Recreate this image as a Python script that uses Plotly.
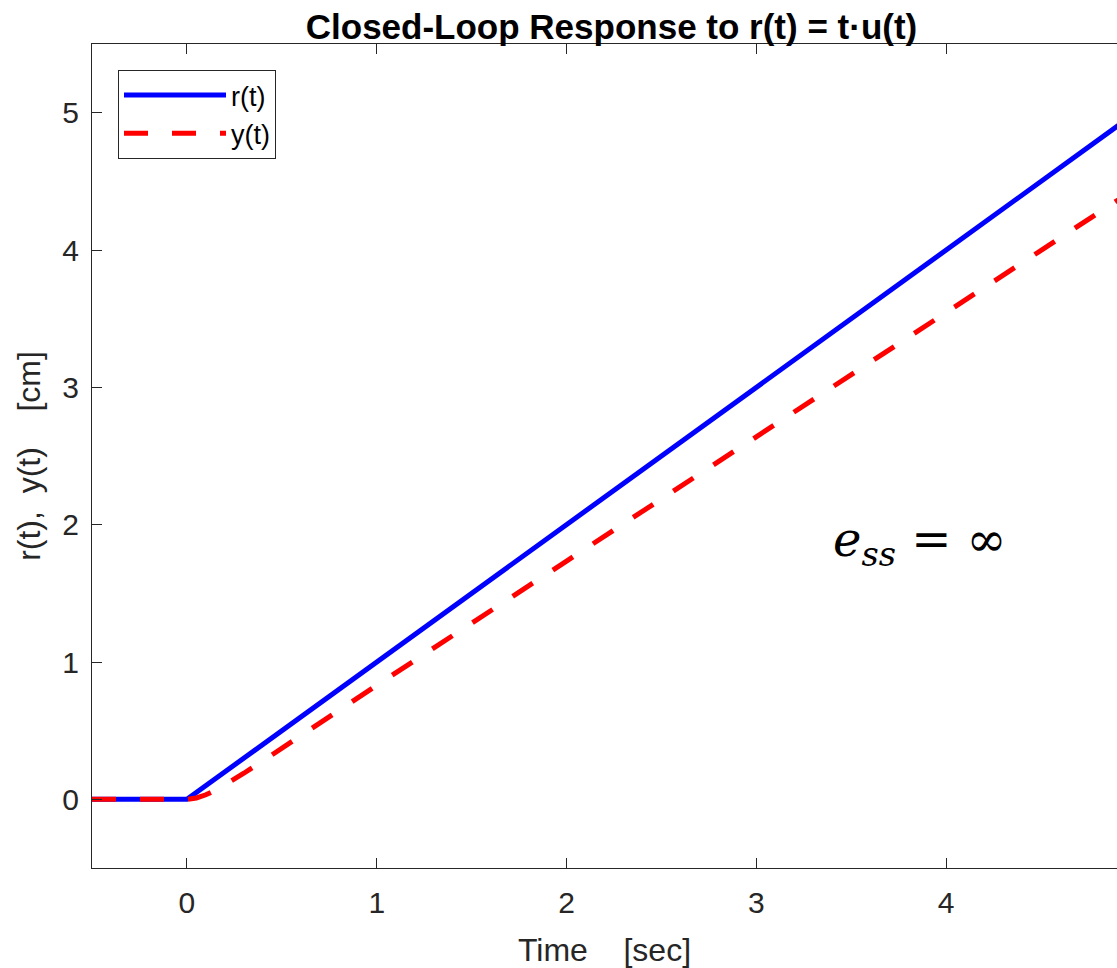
import plotly.graph_objects as go

# Reference input r(t) = t*u(t)
t_r = [-0.5, 0.0, 5.0]
r_vals = [0.0, 0.0, 5.0]

# Output y(t)
t_y = [-0.5, 0.0, 0.05, 0.1, 0.15, 0.2, 0.3, 0.4, 0.5, 0.75, 1.0, 2.0, 3.0, 4.0, 5.0]
y_vals = [0.0, 0.0, 0.01, 0.033, 0.066, 0.105, 0.19, 0.28, 0.37, 0.60, 0.83, 1.735, 2.64, 3.545, 4.45]

x_ticks = [0, 1, 2, 3, 4]
y_ticks = [0, 1, 2, 3, 4, 5]

AX = "#262626"
FONT = "Liberation Sans, Arial, Helvetica, sans-serif"

W, H = 1117, 968

fig = go.Figure()
fig.add_trace(go.Scatter(x=t_r, y=r_vals, mode="lines", name="r(t)",
                         line=dict(color="#0000ff", width=5)))
fig.add_trace(go.Scatter(x=t_y, y=y_vals, mode="lines", name="y(t)",
                         line=dict(color="#ff0000", width=5, dash="24px,24px")))

fig.add_annotation(x=3.86, y=1.87, xref="x", yref="y",
                   text="<i>e</i><sub><i>ss</i></sub> = ∞", showarrow=False,
                   font=dict(family="DejaVu Serif, Liberation Serif, serif", size=48, color="black"))

fig.update_layout(
    width=W, height=H,
    margin=dict(l=92, r=0, t=44, b=100),
    paper_bgcolor="white", plot_bgcolor="white",
    font=dict(family=FONT, color=AX),
    title=dict(text="<b>Closed-Loop Response to r(t) = t·u(t)</b>",
               x=611.5 / W, xref="container", xanchor="center",
               y=1 - 27 / H, yref="container", yanchor="middle",
               font=dict(family=FONT, size=35, color="black")),
    showlegend=True,
    legend=dict(x=(118 - 92) / 1025, y=(868 - 70) / 824, xanchor="left", yanchor="top",
                bgcolor="white", bordercolor=AX, borderwidth=1,
                font=dict(family=FONT, size=27, color="black"),
                itemwidth=102, tracegroupgap=0),
    xaxis=dict(range=[-0.5, 4.9], tickvals=x_ticks, ticks="inside", ticklen=10,
               tickcolor=AX, showline=True, linecolor=AX, linewidth=1, mirror="ticks",
               showgrid=False, zeroline=False,
               tickfont=dict(size=30, color=AX), ticklabelstandoff=8,
               title=dict(text="Time    [sec]", font=dict(size=32, color=AX), standoff=20)),
    yaxis=dict(range=[-0.5, 5.5], tickvals=y_ticks, ticks="inside", ticklen=10,
               tickcolor=AX, showline=True, linecolor=AX, linewidth=1, mirror=False,
               showgrid=False, zeroline=False,
               tickfont=dict(size=30, color=AX), ticklabelstandoff=6,
               title=dict(text="r(t),  y(t)    [cm]", font=dict(size=32, color=AX), standoff=12)),
)

fig.write_html("out.html", config={"displayModeBar": False},
               post_script="document.body.style.margin='0';document.body.style.overflow='hidden';")
